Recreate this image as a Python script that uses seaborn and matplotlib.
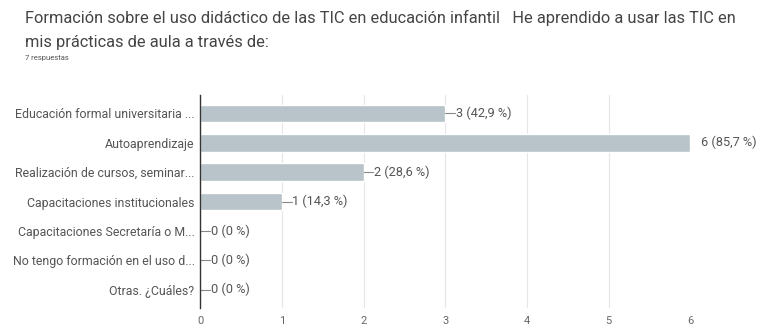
import pandas as pd
import matplotlib.pyplot as plt
import seaborn as sns

# Survey data
categories = [
    "Educación formal universitaria ...",
    "Autoaprendizaje",
    "Realización de cursos, seminar...",
    "Capacitaciones institucionales",
    "Capacitaciones Secretaría o M...",
    "No tengo formación en el uso d...",
    "Otras. ¿Cuáles?",
]
counts = [3, 6, 2, 1, 0, 0, 0]
percents = ["42,9 %", "85,7 %", "28,6 %", "14,3 %", "0 %", "0 %", "0 %"]
ticks = [0, 1, 2, 3, 4, 5, 6]

df = pd.DataFrame({"cat": categories, "n": counts, "pct": percents})

sns.set_style("white")
plt.rcParams["font.family"] = ["Roboto", "DejaVu Sans"]

fig = plt.figure(figsize=(7.61, 3.25), dpi=100)
ax = fig.add_axes([0.263, 0.052, 0.644, 0.656])

sns.barplot(data=df, x="n", y="cat", color="#b8c4c9", width=0.6,
            saturation=1, ax=ax, zorder=2)

ax.set_xlim(0, 6)
ax.set_xticks(ticks)
ax.grid(axis="x", color="#e6e6e6", linewidth=0.8, zorder=0)
ax.set_xlabel("")
ax.set_ylabel("")
for s in ["top", "right", "bottom"]:
    ax.spines[s].set_visible(False)
ax.spines["left"].set_color("#333333")
ax.spines["left"].set_linewidth(1.0)
ax.spines["left"].set_zorder(3)
ax.tick_params(axis="x", length=0, labelsize=8, labelcolor="#666666", pad=6)
ax.tick_params(axis="y", length=0, labelsize=8.9, labelcolor="#555555", pad=4)

# Data labels with short leader line
for i, row in df.iterrows():
    label = f"{row['n']} ({row['pct']})"
    if row["n"] == max(counts):
        ax.text(row["n"] + 0.13, i, label, va="center", ha="left",
                fontsize=9.2, color="#555555", clip_on=False)
    else:
        ax.plot([row["n"], row["n"] + 0.12], [i, i], color="#888888",
                linewidth=0.8, zorder=3)
        ax.text(row["n"] + 0.13, i, label, va="center", ha="left",
                fontsize=9.2, color="#555555")

fig.text(0.033, 0.945, "Formación sobre el uso didáctico de las TIC en educación infantil   "
         "He aprendido a usar las TIC en", fontsize=11.8, color="#444444", va="center")
fig.text(0.033, 0.87, "mis prácticas de aula a través de:", fontsize=11.8,
         color="#444444", va="center")
fig.text(0.033, 0.822, "7 respuestas", fontsize=5.5, color="#555555", va="center")

fig.savefig("out.png", dpi=100)
